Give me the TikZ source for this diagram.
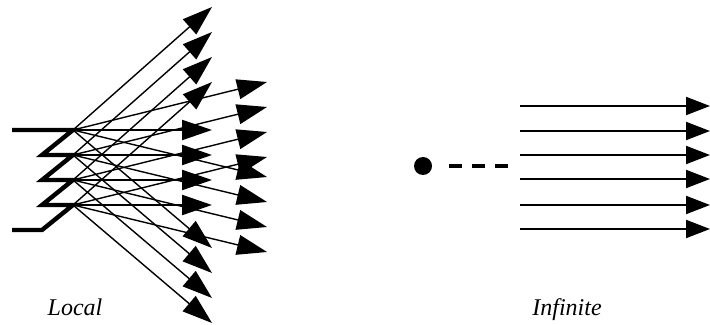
\documentclass[tikz,border=0pt]{standalone}
\usepackage{fontspec}
\setmainfont{Liberation Serif}
\usetikzlibrary{arrows.meta}

\begin{document}
\begin{tikzpicture}[x=0.5pt,y=-0.5pt,>={Triangle[length=15pt,width=10pt]},
  ray/.style={->,line width=0.7pt},
  label/.style={font=\itshape\fontsize{12}{14}\selectfont,anchor=base}]
\useasboundingbox (0,0) rectangle (710,325);
% local array: feed points and where their rays end
\foreach \i/\y in {1/130,2/155,3/180,4/205}{
  \coordinate (s\i) at (73,\y);
  \coordinate (k\i) at (42,\y+25);
  \coordinate (u\i) at (212,\y-123);
  \coordinate (h\i) at (212,\y);
  \coordinate (d\i) at (212,\y+118);
  \coordinate (a\i) at (267,\y-48);
  \coordinate (b\i) at (267,\y+47);
}
\coordinate (w1) at (12,130);
\coordinate (w2) at (12,230);
\draw[line width=2.2pt](w1)--(s1)--(k1)--(s2)--(k2)--(s3)--(k3)--(s4)--(k4)--(w2);
\foreach \i in {1,...,4}{
  \draw[ray](s\i)--(u\i);
  \draw[ray](s\i)--(a\i);
  \draw[ray,line width=1.1pt](s\i)--(h\i);
  \draw[ray](s\i)--(b\i);
  \draw[ray](s\i)--(d\i);
}
% infinite: source far away, parallel rays
\node[circle,fill,inner sep=0pt,minimum size=9pt](dot) at (423,166){};
\coordinate (p1) at (449,166);
\coordinate (p2) at (508,166);
\draw[line width=2pt,dash pattern=on 6.5pt off 5pt](p1)--(p2);
\foreach \j/\y in {1/106,2/131,3/155,4/179,5/205,6/229}{
  \coordinate (l\j) at (520,\y);
  \coordinate (r\j) at (710,\y);
  \draw[->,line width=1pt,>={Triangle[length=12pt,width=9pt]}](l\j)--(r\j);
}
\node[label](local) at (75,315){Local};
\node[label](infinite) at (567,315){Infinite};
\end{tikzpicture}
\end{document}
